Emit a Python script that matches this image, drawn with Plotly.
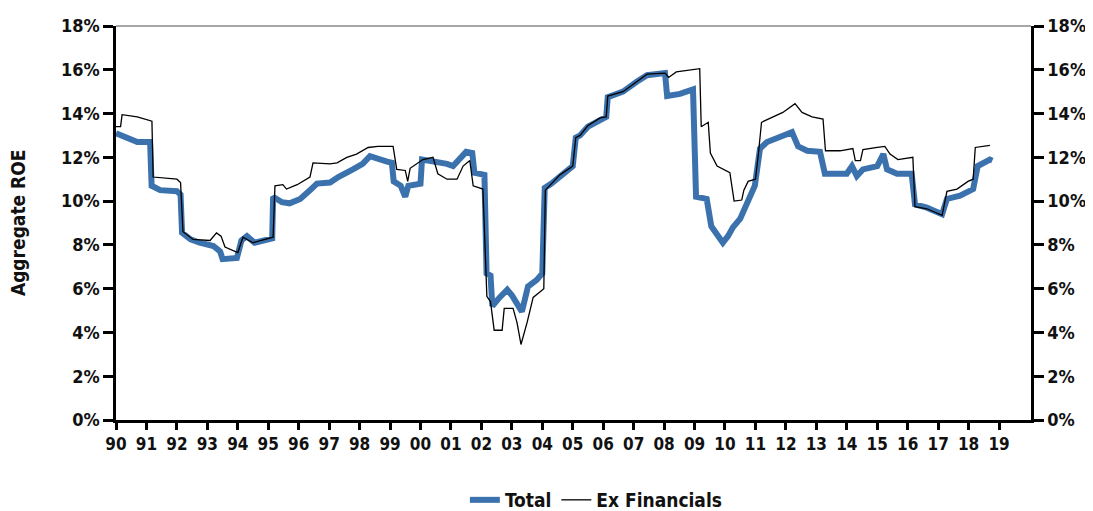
import plotly.graph_objects as go

# ---- data (decimal year, ROE %) ----
total_x = [1990.0, 1990.45, 1990.7, 1991.12, 1991.17, 1991.45, 1992.0, 1992.12, 1992.17, 1992.45,
           1992.75, 1993.2, 1993.42, 1993.5, 1993.97, 1994.12, 1994.3, 1994.55, 1995.05, 1995.13,
           1995.16, 1995.45, 1995.7, 1996.05, 1996.37, 1996.6, 1997.03, 1997.3, 1997.78, 1998.1,
           1998.34, 1998.6, 1998.9, 1999.06, 1999.12, 1999.35, 1999.5, 1999.6, 1999.75, 2000.0,
           2000.05, 2000.55, 2000.87, 2001.07, 2001.5, 2001.7, 2001.77, 2002.1, 2002.17, 2002.3,
           2002.36, 2002.6, 2002.85, 2003.0, 2003.2, 2003.33, 2003.53, 2003.82, 2004.0, 2004.08,
           2004.3, 2004.58, 2005.0, 2005.1, 2005.24, 2005.5, 2005.9, 2006.1, 2006.15, 2006.65,
           2007.1, 2007.44, 2008.03, 2008.1, 2008.52, 2008.95, 2009.05, 2009.4, 2009.55, 2009.93,
           2010.1, 2010.26, 2010.5, 2010.72, 2010.98, 2011.15, 2011.38, 2011.8, 2012.2, 2012.4,
           2012.7, 2013.12, 2013.28, 2014.0, 2014.17, 2014.33, 2014.53, 2015.0, 2015.2, 2015.32,
           2015.65, 2016.13, 2016.24, 2016.63, 2017.13, 2017.29, 2017.72, 2018.15, 2018.3, 2018.7,
           2018.78]
total_y = [13.1, 12.85, 12.7, 12.7, 10.7, 10.5, 10.45, 10.3, 8.55, 8.25,
           8.1, 7.95, 7.7, 7.35, 7.4, 8.2, 8.4, 8.1, 8.25, 8.3,
           10.2, 9.95, 9.9, 10.1, 10.5, 10.8, 10.85, 11.1, 11.45, 11.7,
           12.05, 11.9, 11.8, 11.75, 10.9, 10.7, 10.2, 10.7, 10.75, 10.8,
           11.9, 11.8, 11.7, 11.6, 12.25, 12.2, 11.3, 11.2, 6.7, 6.6,
           5.2, 5.6, 5.95, 5.7, 5.3, 4.95, 6.1, 6.4, 6.7, 10.6,
           10.8, 11.15, 11.6, 12.9, 13.0, 13.4, 13.75, 13.85, 14.75, 15.0,
           15.45, 15.75, 15.85, 14.8, 14.9, 15.1, 10.2, 10.1, 8.85, 8.1,
           8.4, 8.8, 9.2, 9.9, 10.7, 12.4, 12.7, 12.93, 13.15, 12.5,
           12.3, 12.25, 11.25, 11.25, 11.6, 11.15, 11.45, 11.6, 12.15, 11.45,
           11.25, 11.25, 9.85, 9.7, 9.4, 10.1, 10.25, 10.55, 11.6, 11.9,
           11.85]

exfin_x = [1990.0, 1990.15, 1990.2, 1990.7, 1991.18, 1991.22, 1992.0, 1992.12, 1992.2, 1992.53,
           1993.09, 1993.3, 1993.45, 1993.58, 1994.0, 1994.17, 1994.5, 1995.16, 1995.22, 1995.48,
           1995.6, 1995.95, 1996.37, 1996.47, 1997.03, 1997.26, 1997.58, 1997.9, 1998.28, 1998.6,
           1999.1, 1999.22, 1999.5, 1999.58, 1999.66, 1999.88, 2000.08, 2000.41, 2000.57, 2000.87,
           2001.2, 2001.4, 2001.62, 2001.73, 2002.05, 2002.18, 2002.3, 2002.42, 2002.68, 2002.75,
           2003.04, 2003.17, 2003.3, 2003.5, 2003.7, 2003.92, 2004.05, 2004.1, 2004.3, 2004.58,
           2005.0, 2005.1, 2005.24, 2005.5, 2005.9, 2006.1, 2006.15, 2006.65, 2007.1, 2007.44,
           2008.03, 2008.15, 2008.4, 2009.17, 2009.22, 2009.45, 2009.52, 2009.74, 2010.16, 2010.3,
           2010.55, 2010.62, 2010.76, 2011.0, 2011.1, 2011.2, 2011.58, 2011.9, 2012.3, 2012.53,
           2012.86, 2013.22, 2013.3, 2013.78, 2014.2, 2014.28, 2014.45, 2014.53, 2015.0, 2015.25,
           2015.42, 2015.68, 2016.17, 2016.24, 2016.63, 2017.13, 2017.29, 2017.62, 2017.98, 2018.15,
           2018.22, 2018.7]
exfin_y = [13.4, 13.4, 13.95, 13.85, 13.65, 11.1, 11.0, 10.85, 8.6, 8.25,
           8.2, 8.55, 8.4, 7.9, 7.65, 8.35, 8.1, 8.35, 10.7, 10.75,
           10.55, 10.75, 11.1, 11.75, 11.7, 11.75, 12.0, 12.15, 12.45, 12.5,
           12.5, 11.45, 11.4, 10.9, 11.5, 11.7, 11.9, 12.0, 11.25, 11.0,
           11.0, 11.6, 11.85, 10.7, 10.55, 5.65, 5.4, 4.1, 4.1, 5.1,
           5.1, 4.45, 3.45, 4.45, 5.6, 5.85, 6.0, 10.5, 10.8, 11.2,
           11.6, 12.9, 13.0, 13.45, 13.8, 13.85, 14.8, 15.0, 15.45, 15.8,
           15.85, 15.65, 15.9, 16.05, 13.4, 13.6, 12.2, 11.6, 11.3, 10.0,
           10.05, 10.5, 10.9, 11.0, 12.2, 13.6, 13.85, 14.05, 14.45, 14.05,
           13.85, 13.75, 12.3, 12.3, 12.4, 11.85, 11.85, 12.35, 12.45, 12.5,
           12.15, 11.9, 12.0, 9.75, 9.65, 9.35, 10.45, 10.55, 10.9, 11.0,
           12.45, 12.55]

year_ticks = list(range(1990, 2020))
year_labels = ["90", "91", "92", "93", "94", "95", "96", "97", "98", "99",
               "00", "01", "02", "03", "04", "05", "06", "07", "08", "09",
               "10", "11", "12", "13", "14", "15", "16", "17", "18", "19"]
roe_ticks = [0, 2, 4, 6, 8, 10, 12, 14, 16, 18]
roe_labels = ["0%", "2%", "4%", "6%", "8%", "10%", "12%", "14%", "16%", "18%"]

FONT = "DejaVu Sans Condensed, Liberation Sans, Arial, sans-serif"
ytickfont = dict(family=FONT, size=18, color="#111111", weight="bold")
xtickfont = dict(family=FONT, size=17, color="#111111", weight="bold")

fig = go.Figure()
fig.add_trace(go.Scatter(x=total_x, y=total_y, mode="lines", name="Total",
                         line=dict(color="#3B72AE", width=6)))
fig.add_trace(go.Scatter(x=exfin_x, y=exfin_y, mode="lines", name="Ex Financials",
                         line=dict(color="#000000", width=1.3), yaxis="y2"))

yax = dict(range=[0, 18], tickvals=roe_ticks, ticktext=roe_labels, showgrid=False,
           zeroline=False, showline=True, linecolor="#000000", linewidth=2.5,
           ticks="outside", ticklen=10, tickwidth=2.5, tickcolor="#000000",
           tickfont=ytickfont, fixedrange=True, automargin=False)

fig.update_layout(
    width=1085, height=503,
    margin=dict(l=108, r=62, t=18, b=91, autoexpand=False),
    paper_bgcolor="white", plot_bgcolor="white",
    xaxis=dict(range=[1990, 2020.05], tickvals=year_ticks, ticktext=year_labels,
               showgrid=False, zeroline=False, showline=True, linecolor="#000000",
               linewidth=2.5, ticks="outside", ticklen=7, tickwidth=2.5,
               tickcolor="#000000", tickfont=xtickfont, tickangle=0, automargin=False),
    yaxis=dict(**yax, side="left"),
    yaxis2=dict(**yax, side="right", overlaying="y"),
    showlegend=True,
    legend=dict(orientation="h", x=0.525, xanchor="center", y=-0.203, yanchor="middle",
                font=dict(family=FONT, size=19, color="#111111", weight="bold"),
                bgcolor="rgba(0,0,0,0)"),
    annotations=[dict(text="Aggregate ROE", xref="paper", yref="paper",
                      x=-0.107, y=0.5, textangle=-90, showarrow=False,
                      xanchor="center", yanchor="middle",
                      font=dict(family=FONT, size=19, color="#111111", weight="bold"))],
    shapes=[dict(type="line", xref="paper", yref="paper", x0=0, x1=1, y0=1, y1=1,
                 line=dict(color="#888888", width=1.5))],
)

fig.write_html("out.html")
